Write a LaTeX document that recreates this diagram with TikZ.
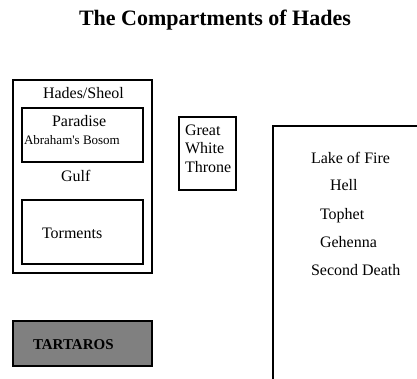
\documentclass[tikz,border=0pt]{standalone}
\usepackage{fontspec}
\setmainfont{Liberation Serif}
\definecolor{tartgray}{HTML}{808080}
\begin{document}
\begin{tikzpicture}[x=1pt, y=-1pt, draw=black, line width=2pt,
	txt/.style={anchor=base west, inner sep=0pt, font=\fontsize{16}{18}\selectfont},
	smalltxt/.style={anchor=base west, inner sep=0pt, font=\fontsize{13}{15}\selectfont}]
	\useasboundingbox (0,0) rectangle (417,379);
	\node[anchor=base west, inner sep=0pt, font=\fontsize{22}{26}\selectfont\bfseries] (title) at (78,26) {The Compartments of Hades};
	%Hades/Sheol
	\draw[line width=1.5pt] (13,80)  rectangle (152,273);
	\draw     (22,108)  rectangle (143,162);
	\draw     (22,200)  rectangle (143,264);
	\node[txt]      (hades)    at (42,99)  {Hades/Sheol};
	\node[txt]      (paradise) at (51,127) {Paradise};
	\node[smalltxt] (bosom)    at (23,145) {Abraham\textquotesingle s Bosom};
	\node[txt]      (gulf)     at (60,182) {Gulf};
	\node[txt]      (torments) at (41,238) {Torments};
	%Great White Throne
	\draw     (179,117) rectangle (236,190);
	\node[txt] (great)  at (184,136) {Great};
	\node[txt] (white)  at (184,154) {White};
	\node[txt] (throne) at (184,173) {Throne};
	%Lake of Fire, offen nach rechts und unten
	\draw     (273,385) -- (273,126) -- (420,126);
	\node[txt] (lake)    at (310,164) {Lake of Fire};
	\node[txt] (hell)    at (329,191) {Hell};
	\node[txt] (tophet)  at (319,219) {Tophet};
	\node[txt] (gehenna) at (319,247) {Gehenna};
	\node[txt] (death)   at (310,275) {Second Death};
	%Tartaros
	\filldraw[fill=tartgray] (13,321) rectangle (152,366);
	\node[anchor=base west, inner sep=0pt, font=\fontsize{15}{18}\selectfont\bfseries] (tartaros) at (32,349) {TARTAROS};
\end{tikzpicture}
\end{document}
